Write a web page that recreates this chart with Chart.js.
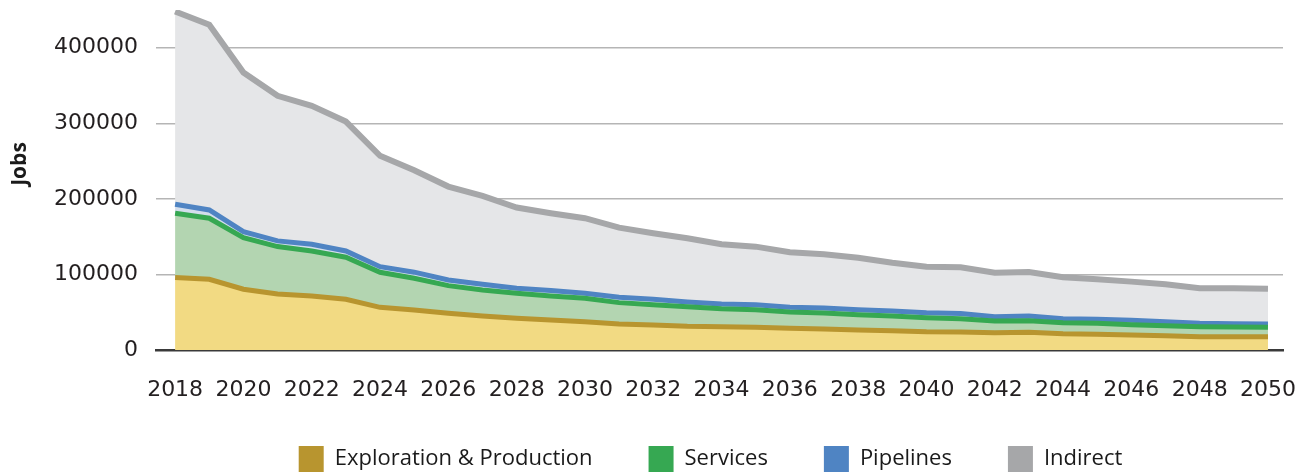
<!DOCTYPE html>
<html>
<head>
<meta charset="utf-8">
<script src="https://cdn.jsdelivr.net/npm/chart.js@4.4.1/dist/chart.umd.min.js"></script>
<style>
  html, body { margin: 0; padding: 0; background: #fff; }
  #wrap { width: 1307px; height: 472px; }
</style>
</head>
<body>
<div id="wrap"><canvas id="myChart"></canvas></div>
<script>
const years = [2018, 2019, 2020, 2021, 2022, 2023, 2024, 2025, 2026, 2027, 2028,
  2029, 2030, 2031, 2032, 2033, 2034, 2035, 2036, 2037, 2038, 2039, 2040,
  2041, 2042, 2043, 2044, 2045, 2046, 2047, 2048, 2049, 2050];

// jobs per category
const exploration = [95800, 93600, 80400, 74200, 71500, 67100, 56500, 53000, 48600, 45000, 42000,
  39700, 37500, 34400, 33100, 31500, 30900, 30000, 28700, 27800, 26500, 25600, 24200,
  23800, 22900, 23400, 21600, 20800, 19900, 19000, 17700, 17700, 17700];
const services = [85200, 80800, 68400, 62700, 59600, 55700, 46400, 42000, 36600, 34500, 33100,
  31800, 31000, 28300, 26900, 25900, 23800, 23400, 21600, 21200, 20300, 19400, 18600,
  17700, 15500, 15400, 14600, 14500, 13600, 13200, 13200, 12800, 12300];
const pipelines = [12000, 11000, 7900, 7500, 8900, 8300, 7400, 8000, 7500, 7500, 6600,
  7100, 6600, 7100, 7100, 6200, 6200, 6600, 6200, 6600, 6600, 6700, 6600,
  6700, 5700, 6200, 5300, 5400, 5800, 5300, 4400, 4400, 4400];
const indirect = [255000, 245100, 210600, 192000, 183200, 171300, 146700, 135000, 123600, 117000, 106800,
  102400, 99300, 92200, 87400, 84300, 79100, 76800, 72900, 71100, 68600, 63900, 60900,
  61300, 58300, 58300, 54800, 52900, 51200, 49500, 46400, 46800, 46800];

const xTicks = [2018, 2020, 2022, 2024, 2026, 2028, 2030, 2032, 2034, 2036, 2038,
  2040, 2042, 2044, 2046, 2048, 2050];
const yTicks = [0, 100000, 200000, 300000, 400000];
const yTitle = 'Jobs';

const toPoints = arr => arr.map((v, i) => ({ x: years[i], y: v }));

// rotated axis title, a bit above the middle like the original
const jobsTitle = {
  id: 'jobsTitle',
  afterDraw(chart) {
    const c = chart.ctx;
    c.save();
    c.translate(20, 164);
    c.rotate(-Math.PI / 2);
    c.font = 'bold 21px "Open Sans"';
    c.fillStyle = '#1a1a1a';
    c.textAlign = 'center';
    c.textBaseline = 'middle';
    c.fillText(yTitle, 0, 0);
    c.restore();
  }
};

// nudge the legend row up/left so it sits where the original has it
const legendNudge = {
  id: 'legendNudge',
  afterLayout(chart) {
    const lg = chart.legend;
    if (!lg) return;
    lg.top -= 12; lg.bottom -= 12;
    lg.left -= 9; lg.right -= 9;
  }
};

const ctx = document.getElementById('myChart').getContext('2d');

const myChart = new Chart(ctx, {
  type: 'line',
  data: {
    datasets: [
      {
        label: 'Exploration & Production',
        data: toPoints(exploration),
        borderColor: '#b8952f',
        backgroundColor: '#f2da83',
        fill: 'origin'
      },
      {
        label: 'Services',
        data: toPoints(services),
        borderColor: '#36a852',
        backgroundColor: '#b3d5b1',
        fill: '-1'
      },
      {
        label: 'Pipelines',
        data: toPoints(pipelines),
        borderColor: '#4f84c3',
        backgroundColor: '#d3deec',
        fill: '-1'
      },
      {
        label: 'Indirect',
        data: toPoints(indirect),
        borderColor: '#a6a7a9',
        backgroundColor: '#e5e6e8',
        fill: '-1',
        borderWidth: 6
      }
    ]
  },
  options: {
    responsive: true,
    maintainAspectRatio: false,
    animation: false,
    elements: {
      line: { borderWidth: 5, tension: 0, borderJoinStyle: 'miter', borderCapStyle: 'butt' },
      point: { radius: 0, hoverRadius: 0 }
    },
    layout: {
      padding: { top: 10, right: 24, bottom: -22, left: 0 }
    },
    plugins: {
      tooltip: { enabled: false },
      legend: {
        position: 'bottom',
        fullSize: false,
        labels: {
          boxWidth: 25,
          boxHeight: 26,
          padding: 56,
          color: '#1a1a1a',
          font: { family: 'Open Sans', size: 22 },
          generateLabels: chart => chart.data.datasets.map((ds, i) => ({
            text: ds.label,
            fillStyle: ds.borderColor,
            strokeStyle: ds.borderColor,
            lineWidth: 0,
            hidden: false,
            datasetIndex: i,
            fontColor: '#1a1a1a'
          }))
        }
      }
    },
    scales: {
      x: {
        type: 'linear',
        min: 2017.44,
        max: 2050.44,
        afterBuildTicks: axis => { axis.ticks = xTicks.map(v => ({ value: v })); },
        afterFit: axis => {
          axis.height = 52;
          axis.paddingLeft = 0;
          axis.paddingRight = 0;
        },
        grid: { display: false, drawTicks: false },
        border: { display: true, color: '#3a3a3a', width: 2.5 },
        ticks: {
          padding: 27,
          maxRotation: 0,
          autoSkip: false,
          color: '#231f20',
          font: { family: 'DejaVu Sans', size: 22 },
          callback: v => String(v)
        }
      },
      y: {
        stacked: true,
        min: 0,
        max: 450000,
        afterBuildTicks: axis => { axis.ticks = yTicks.map(v => ({ value: v })); },
        afterFit: axis => {
          axis.width = 156;
          axis.paddingTop = 0;
          axis.paddingBottom = 0;
        },
        grid: { color: '#b5b5b5', lineWidth: 1.5, drawTicks: false },
        border: { display: false },
        ticks: {
          padding: 18,
          color: '#231f20',
          font: { family: 'DejaVu Sans', size: 22 },
          callback: v => String(v)
        }
      }
    }
  },
  plugins: [jobsTitle, legendNudge]
});
</script>
</body>
</html>
